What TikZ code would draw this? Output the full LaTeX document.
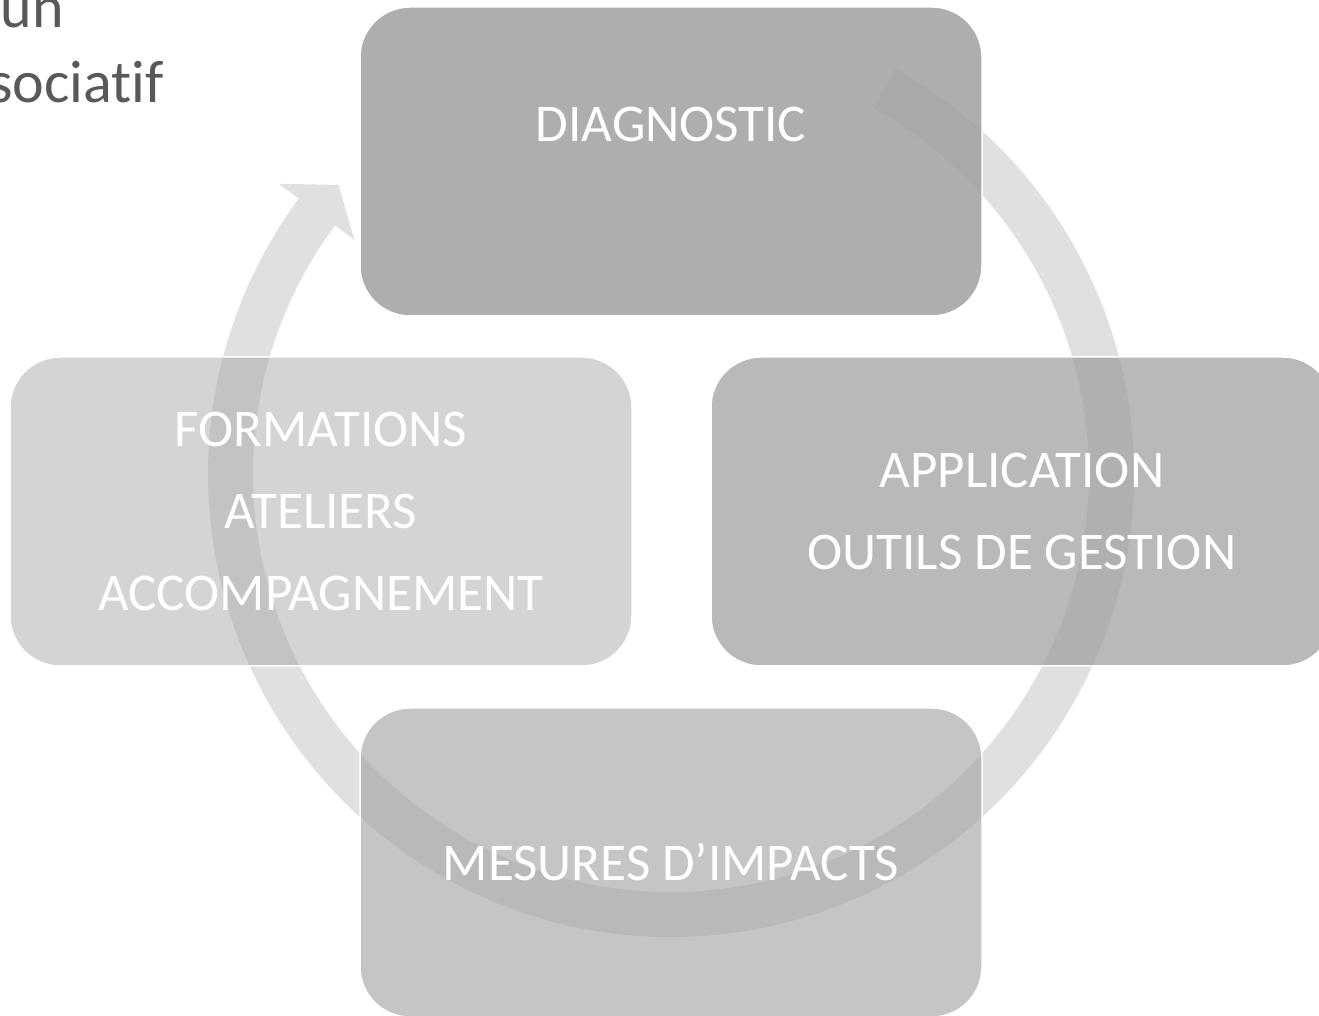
\documentclass[tikz,border=0pt]{standalone}
\usepackage{fontspec}
\setmainfont[Ligatures={TeX,NoCommon}]{Carlito}
\definecolor{boxgray}{gray}{0.63}
\definecolor{ringgray}{gray}{0.88}
\definecolor{titlegray}{gray}{0.35}
\tikzset{
  cyclebox/.style={rectangle,rounded corners=50pt,draw=white,line width=1.5pt,fill=boxgray,
    minimum width=622pt,minimum height=309pt,text=white,text opacity=1,align=center,
    font=\fontsize{53}{82}\selectfont},
  cycletext/.style={text=white,font=\fontsize{53}{82}\selectfont},
  titletext/.style={text=titlegray,font=\fontsize{60}{75}\selectfont,inner sep=0pt,anchor=base east}
}
\begin{document}
\begin{tikzpicture}[x=1pt,y=1pt]
  \useasboundingbox (0,0) rectangle (1319,1016);
  \clip (0,0) rectangle (1319,1016);
  \node[titletext] (titleun) at (64,988) {un};
  \node[titletext] (titleasso) at (164,913) {sociatif};
  % ring arrow behind the boxes
  \fill[ringgray,shift={(671,542)}] (61:418) -- (61:463) arc[start angle=61,end angle=-216.5,radius=463]
    -- (-216.5:488) -- (-221:440.5) -- (-216.5:394) -- (-216.5:418)
    arc[start angle=-216.5,end angle=61,radius=418] -- cycle;
  \node[cyclebox,fill opacity=.86] (diag) at (671,854.5) {};
  \node[cycletext] (diagtxt) at ([yshift=-118pt]diag.north) {DIAGNOSTIC};
  \node[cyclebox,fill opacity=.75] (appli) at (1022,504.5) {APPLICATION\\OUTILS DE GESTION};
  \node[cyclebox,fill opacity=.61] (mesures) at (671,153.5) {MESURES D’IMPACTS};
  \node[cyclebox,fill opacity=.46] (formations) at (321,504.5) {FORMATIONS\\ATELIERS\\ACCOMPAGNEMENT};
\end{tikzpicture}
\end{document}
